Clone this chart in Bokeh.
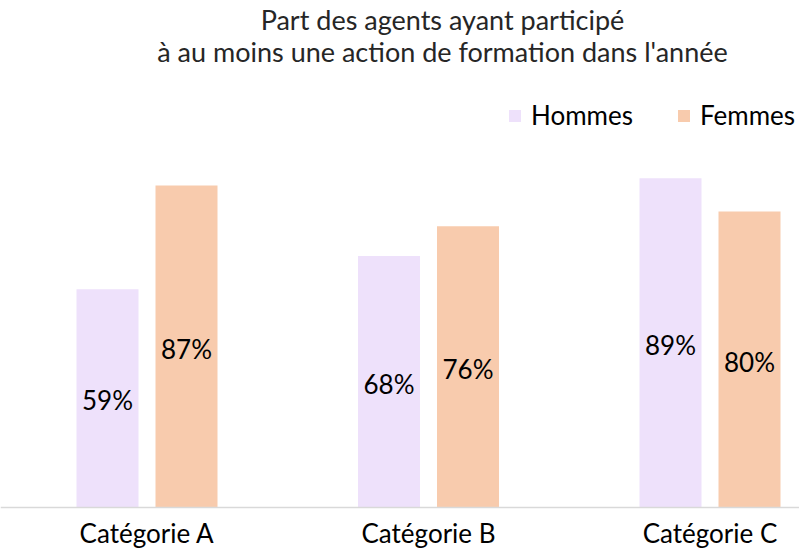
from bokeh.plotting import figure
from bokeh.models import Range1d, FixedTicker, Legend, LegendItem, Label, ColumnDataSource
from bokeh.core.properties import value
from bokeh.embed import file_html
from bokeh.resources import INLINE

categories = ["Catégorie A", "Catégorie B", "Catégorie C"]
hommes = [59, 68, 89]
femmes = [87, 76, 80]
series_names = ["Hommes", "Femmes"]
colors = ["#EEE1FB", "#F8CBAD"]
title_lines = ["Part des agents ayant participé",
               "à au moins une action de formation dans l'année"]

FONT = "Lato"
W, H = 799, 550
BASE = 507            # pixel row of the zero line inside the figure
PX_PER_PCT = 3.7
px_per_cat = 281.5
x0 = -146.5 / px_per_cat
x1 = x0 + W / px_per_cat
y_start = -(H - BASE) / PX_PER_PCT
y_end = BASE / PX_PER_PCT

p = figure(width=W, height=H, output_backend="svg", toolbar_location=None,
           x_range=Range1d(x0, x1), y_range=Range1d(y_start, y_end),
           min_border_left=0, min_border_right=0, min_border_top=0,
           min_border_bottom=0)
p.outline_line_color = None
p.grid.visible = False
p.yaxis.visible = False
p.background_fill_color = "white"

idx = list(range(len(categories)))
offset = 39.5 / px_per_cat
bw = 62 / px_per_cat

renderers = []
for k, (vals, col) in enumerate([(hommes, colors[0]), (femmes, colors[1])]):
    xs = [i + (-offset if k == 0 else offset) for i in idx]
    src = ColumnDataSource(dict(x=xs, top=vals, mid=[v / 2 for v in vals],
                                lab=[f"{v}%" for v in vals]))
    r = p.vbar(x="x", top="top", width=bw, source=src, fill_color=col, line_color=None)
    renderers.append(r)
    p.text(x="x", y="mid", text="lab", source=src, text_align="center",
           text_baseline="middle", text_font=value(FONT), text_font_size="26px",
           text_color="#000000", y_offset=2)

ax = p.xaxis[0]
ax.fixed_location = 0
ax.ticker = FixedTicker(ticks=idx)
ax.major_label_overrides = {i: c for i, c in zip(idx, categories)}
ax.major_tick_in = 0
ax.major_tick_out = 0
ax.minor_tick_in = 0
ax.minor_tick_out = 0
ax.axis_line_color = "#D9D9D9"
ax.axis_line_width = 1.5
ax.major_label_text_font = FONT
ax.major_label_text_font_size = "26px"
ax.major_label_text_color = "#000000"
ax.major_label_standoff = 9

legend = Legend(items=[LegendItem(label=n, renderers=[r]) for n, r in zip(series_names, renderers)],
                orientation="horizontal", location=(507, 419),
                glyph_width=15, glyph_height=15, label_standoff=9, spacing=43,
                padding=0, margin=0, border_line_color=None, background_fill_alpha=0,
                label_text_font=FONT, label_text_font_size="26px", label_text_color="#000000",
                label_height=26)
p.add_layout(legend)

for t, yy in zip(title_lines, [H - 19, H - 51]):
    p.add_layout(Label(x=442, y=yy, x_units="screen", y_units="screen", text=t,
                       text_align="center", text_baseline="middle", text_font=FONT,
                       text_font_size="27px", text_color="#262626"))

open("out.html", "w").write(file_html(p, INLINE))
